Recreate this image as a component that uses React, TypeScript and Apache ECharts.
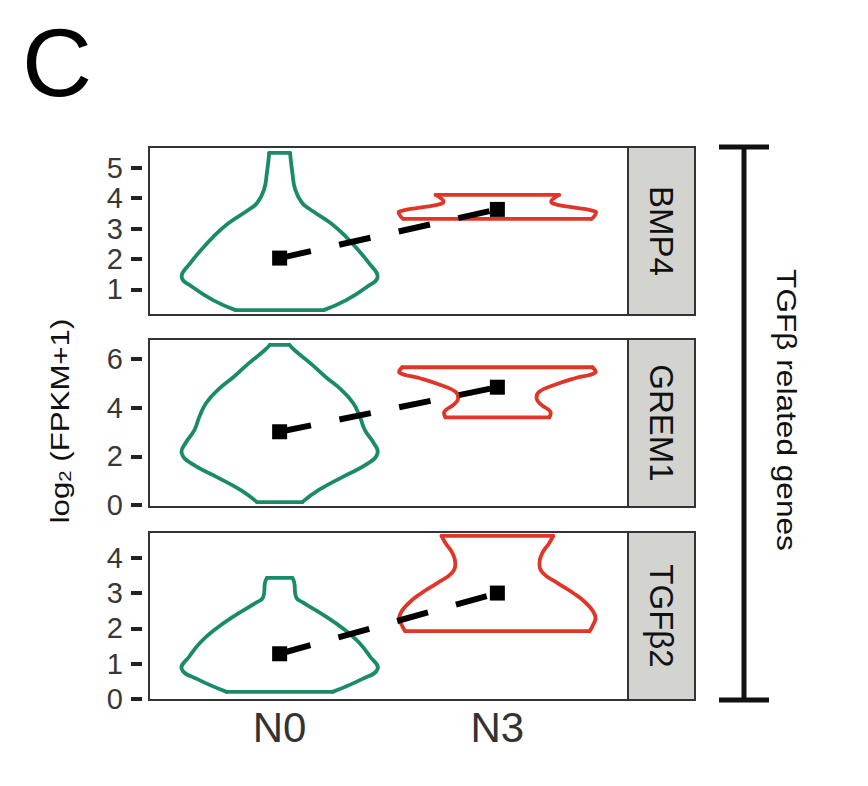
import React, { useEffect, useRef } from 'react';
import * as echarts from 'echarts';

const genes = ['BMP4', 'GREM1', 'TGFβ2'];
const groups = ['N0', 'N3'];
const meanN0 = [2.03, 3.01, 1.28];
const meanN3 = [3.63, 4.84, 3.0];

// violin outlines, bottom to top: [log2(FPKM+1), relative half-width]
const violinBMP4N0 = [[0.32, 0.45], [0.65, 0.68], [1.08, 0.89], [1.41, 1.0], [1.87, 0.91], [2.3, 0.8], [2.72, 0.68], [3.18, 0.52], [3.61, 0.32], [3.84, 0.23], [4.27, 0.16], [4.83, 0.13], [5.49, 0.106]];
const violinBMP4N3 = [[3.32, 0.96], [3.41, 0.99], [3.56, 1.0], [3.72, 0.72], [3.82, 0.57], [3.89, 0.55], [3.98, 0.57], [4.105, 0.63]];
const violinGREM1N0 = [[0.12, 0.23], [0.62, 0.4], [1.15, 0.64], [1.73, 0.91], [2.14, 1.0], [2.55, 0.96], [3.08, 0.87], [3.62, 0.82], [4.19, 0.75], [4.73, 0.63], [5.26, 0.47], [5.84, 0.31], [6.37, 0.15], [6.58, 0.1]];
const violinGREM1N3 = [[3.6, 0.53], [3.84, 0.54], [4.11, 0.45], [4.38, 0.4], [4.66, 0.43], [4.93, 0.58], [5.21, 0.79], [5.44, 1.0], [5.66, 0.97]];
const violinTGFB2N0 = [[0.2, 0.54], [0.56, 0.84], [0.85, 1.0], [1.21, 0.92], [1.6, 0.81], [1.97, 0.66], [2.34, 0.47], [2.73, 0.24], [2.87, 0.17], [3.29, 0.15], [3.43, 0.13]];
const violinTGFB2N3 = [[1.92, 0.94], [2.06, 0.97], [2.34, 1.0], [2.73, 0.9], [3.01, 0.77], [3.29, 0.61], [3.58, 0.46], [3.86, 0.43], [4.14, 0.46], [4.42, 0.53], [4.62, 0.57]];

const violinN0 = [violinBMP4N0, violinGREM1N0, violinTGFB2N0];
const violinN3 = [violinBMP4N3, violinGREM1N3, violinTGFB2N3];

const yMin = [0.16, -0.08, -0.03];
const yMax = [5.68, 6.82, 4.73];
const yTicks = [[1, 2, 3, 4, 5], [0, 2, 4, 6], [0, 1, 2, 3, 4]];

const yTitle = 'log{sub|2} (FPKM+1)';
const bracketTitle = 'TGFβ related genes';
const panelLetter = 'C';

const FONT = '"Liberation Sans", Arial, Helvetica, sans-serif';
const GREEN = '#1b8a6b';
const RED = '#e0362a';
const LEFT = 149;
const PW = 479;
const TOPS = [147, 339, 532];
const PH = 168;
const STRIP_W = 67;

function makeViolin(profile: number[][], gx: number, color: string) {
  return (params: any, api: any) => {
    if (params.dataIndex !== 0) return null;
    const hw = 0.45;
    const right = profile.map(([v, w]) => api.coord([gx + w * hw, v]));
    const left = profile.map(([v, w]) => api.coord([gx - w * hw, v]));
    const n = profile.length - 1;
    const style = { stroke: color, lineWidth: 3.8, fill: 'none', lineJoin: 'round', lineCap: 'round' };
    return {
      type: 'group',
      children: [
        { type: 'polyline', shape: { points: right, smooth: 0.45 }, style },
        { type: 'polyline', shape: { points: left, smooth: 0.45 }, style },
        { type: 'line', shape: { x1: left[0][0], y1: left[0][1], x2: right[0][0], y2: right[0][1] }, style },
        { type: 'line', shape: { x1: left[n][0], y1: left[n][1], x2: right[n][0], y2: right[n][1] }, style },
      ],
    };
  };
}

export default function App() {
  const ref = useRef<HTMLDivElement>(null);
  useEffect(() => {
    document.body.style.margin = '0';
    const chart = echarts.init(ref.current!, null, { renderer: 'svg' });
    const grid: any[] = [];
    const xAxis: any[] = [];
    const yAxis: any[] = [];
    const series: any[] = [];
    const graphic: any[] = [];
    genes.forEach((g, i) => {
      grid.push({ left: LEFT, top: TOPS[i], width: PW, height: PH, show: true, borderColor: '#333', borderWidth: 2, backgroundColor: '#fff' });
      const last = i === genes.length - 1;
      xAxis.push({
        gridIndex: i, type: 'value', min: 0.4, max: 2.6,
        axisLine: { show: false }, axisTick: { show: false }, splitLine: { show: false },
        axisLabel: {
          show: last, customValues: [1, 2], margin: 6,
          formatter: (v: number) => groups[Math.round(v) - 1] ?? '',
          fontSize: 42, color: '#333', fontFamily: FONT,
        },
      });
      yAxis.push({
        gridIndex: i, type: 'value', min: yMin[i], max: yMax[i], offset: 7,
        axisLine: { show: false }, splitLine: { show: false },
        axisTick: { show: true, length: 11, customValues: yTicks[i], lineStyle: { color: '#222', width: 4 } },
        axisLabel: { customValues: yTicks[i], margin: 19, fontSize: 29, color: '#383838', fontFamily: FONT },
      });
      series.push({
        type: 'custom', xAxisIndex: i, yAxisIndex: i, silent: true, z: 2,
        data: violinN0[i].map(([v, w]) => [1, v, w]),
        renderItem: makeViolin(violinN0[i], 1, GREEN),
      });
      series.push({
        type: 'custom', xAxisIndex: i, yAxisIndex: i, silent: true, z: 2,
        data: violinN3[i].map(([v, w]) => [2, v, w]),
        renderItem: makeViolin(violinN3[i], 2, RED),
      });
      series.push({
        type: 'line', xAxisIndex: i, yAxisIndex: i, silent: true, z: 5,
        data: [[1, meanN0[i]], [2, meanN3[i]]],
        symbol: 'rect', symbolSize: 15, itemStyle: { color: '#000' },
        lineStyle: { color: '#000', width: 6, type: [32, 29] },
      });
      graphic.push({
        type: 'rect', shape: { x: LEFT + PW, y: TOPS[i], width: STRIP_W, height: PH },
        style: { fill: '#d3d3d0', stroke: '#333', lineWidth: 2 }, z: 10,
      });
      graphic.push({
        type: 'text', x: LEFT + PW + STRIP_W / 2, y: TOPS[i] + PH / 2, rotation: -Math.PI / 2, z: 11,
        style: { text: g, fontSize: 33, fontFamily: FONT, fill: '#111', textAlign: 'center', textVerticalAlign: 'middle' },
      });
    });
    // bracket
    const bx = 744;
    const by1 = TOPS[0];
    const by2 = TOPS[2] + PH;
    graphic.push({ type: 'line', shape: { x1: bx, y1: by1, x2: bx, y2: by2 }, style: { stroke: '#111', lineWidth: 5 } });
    graphic.push({ type: 'line', shape: { x1: 719, y1: by1, x2: 769, y2: by1 }, style: { stroke: '#111', lineWidth: 5 } });
    graphic.push({ type: 'line', shape: { x1: 719, y1: by2, x2: 769, y2: by2 }, style: { stroke: '#111', lineWidth: 5 } });
    graphic.push({
      type: 'text', x: 787, y: 410, rotation: -Math.PI / 2, scaleX: 1.13,
      style: { text: bracketTitle, fontSize: 28, fontFamily: FONT, fill: '#111', textAlign: 'center', textVerticalAlign: 'middle' },
    });
    graphic.push({
      type: 'text', x: 60, y: 421, rotation: Math.PI / 2, scaleX: 1.2,
      style: {
        text: yTitle, fontSize: 26, fontFamily: FONT, fill: '#111', textAlign: 'center', textVerticalAlign: 'middle',
        rich: { sub: { fontSize: 17, fontFamily: FONT, fill: '#111', padding: [11, 0, 0, 0] } },
      },
    });
    graphic.push({
      type: 'text', x: 22, y: 62,
      style: { text: panelLetter, fontSize: 97, fontFamily: FONT, fill: '#000', textAlign: 'left', textVerticalAlign: 'middle' },
    });
    chart.setOption({ animation: false, backgroundColor: '#fff', grid, xAxis, yAxis, series, graphic });
    return () => chart.dispose();
  }, []);
  return <div ref={ref} style={{ width: 868, height: 786 }} />;
}
